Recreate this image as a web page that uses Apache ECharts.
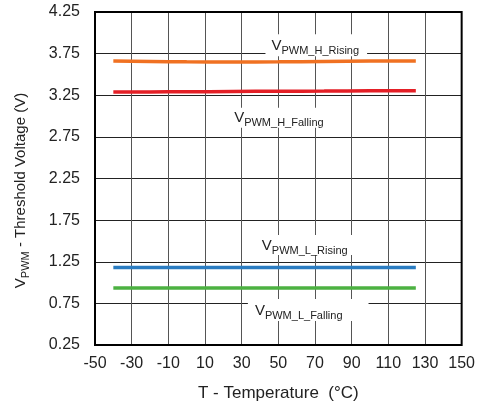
<!DOCTYPE html>
<html>
<head>
<meta charset="utf-8">
<script src="https://cdn.jsdelivr.net/npm/echarts@6/dist/echarts.min.js"></script>
<style>
  html, body { margin: 0; padding: 0; background: #fff; }
  #chart { width: 478px; height: 408px; }
</style>
</head>
<body>
<div id="chart"></div>
<script>
// temperature points (°C)
const temps = [-40, -20, 0, 25, 50, 75, 100, 125]

// threshold voltages (V)
const hRising = [3.66, 3.656, 3.652, 3.65, 3.651, 3.655, 3.66, 3.662]
const hFalling = [3.29, 3.29, 3.292, 3.295, 3.298, 3.3, 3.303, 3.305]
const lRising = [1.18, 1.18, 1.18, 1.18, 1.18, 1.18, 1.18, 1.18]
const lFalling = [0.935, 0.935, 0.935, 0.935, 0.935, 0.935, 0.935, 0.935]

// label names and where they sit (data coords)
const labelNames = ['PWM_H_Rising', 'PWM_H_Falling', 'PWM_L_Rising', 'PWM_L_Falling']
const labelAt = [[70.7, 3.85], [50.3, 2.98], [64.4, 1.45], [66.3, 0.67]]
const labelPad = [[4, 8, 3, 6], [3, 6, 2, 6], [3, 6, 2, 6], [4, 26, 3, 7]]

const font = '"Liberation Sans", Arial, sans-serif'

const pair = (xs, ys) => xs.map((x, i) => [x, ys[i]])

const subRich = (big, small) => ({
  v: { fontFamily: font, fontSize: big, color: '#222', verticalAlign: 'bottom' },
  s: { fontFamily: font, fontSize: small, color: '#222', verticalAlign: 'bottom', padding: [0, 0, -3, 0] }
})

const makeSeries = (name, values, color, idx) => ({
  name: name,
  type: 'line',
  data: pair(temps, values),
  showSymbol: false,
  smooth: true,
  lineStyle: { color: color, width: 3.5 },
  itemStyle: { color: color },
  z: 3,
  markPoint: {
    symbol: 'rect',
    symbolSize: 0,
    data: [{ coord: labelAt[idx] }],
    label: {
      show: true,
      position: 'inside',
      formatter: '{v|V}{s|' + labelNames[idx] + '}',
      backgroundColor: '#fff',
      padding: labelPad[idx],
      rich: subRich(15, 11)
    }
  }
})

const chart = echarts.init(document.getElementById('chart'))
chart.setOption({
  animation: false,
  grid: {
    left: 95,
    right: 16,
    top: 12,
    bottom: 63,
    show: true,
    borderColor: '#000',
    borderWidth: 2,
    z: 5
  },
  xAxis: {
    type: 'value',
    min: -50,
    max: 150,
    interval: 20,
    name: 'T - Temperature  (°C)',
    nameLocation: 'middle',
    nameGap: 40,
    nameTextStyle: { fontFamily: font, fontSize: 17, color: '#222' },
    axisLine: { show: false },
    axisTick: { show: false },
    axisLabel: { fontFamily: font, fontSize: 16, color: '#222', margin: 11 },
    splitLine: { lineStyle: { color: '#555', width: 1 } }
  },
  yAxis: {
    type: 'value',
    min: 0.25,
    max: 4.25,
    interval: 0.5,
    name: '{v|V}{s|PWM}{v| - Threshold Voltage (V)}',
    nameLocation: 'middle',
    nameGap: 67,
    nameRotate: 90,
    nameTextStyle: { rich: subRich(15, 11), padding: [0, 24, 0, 0] },
    axisLine: { show: false },
    axisTick: { show: false },
    axisLabel: {
      fontFamily: font,
      fontSize: 16,
      color: '#222',
      margin: 15,
      formatter: v => v.toFixed(2)
    },
    splitLine: { lineStyle: { color: '#222', width: 1 } }
  },
  series: [
    makeSeries('H Rising', hRising, '#f07122', 0),
    makeSeries('H Falling', hFalling, '#e41f26', 1),
    makeSeries('L Rising', lRising, '#2a7cc1', 2),
    makeSeries('L Falling', lFalling, '#4cb141', 3)
  ]
})
</script>
</body>
</html>
